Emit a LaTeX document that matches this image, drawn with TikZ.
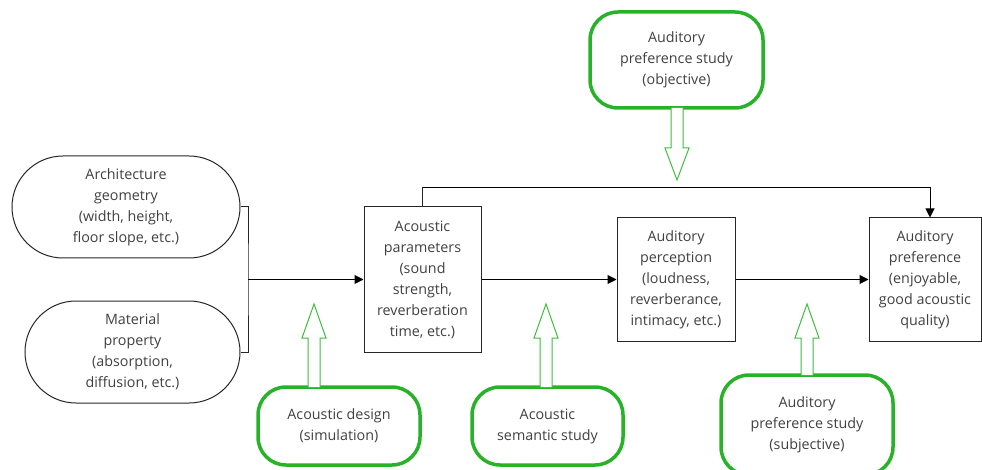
\documentclass[tikz,border=0pt]{standalone}
\usepackage{fontspec}
\setmainfont{Open Sans}
\usetikzlibrary{shapes.misc,arrows.meta}
\definecolor{txt}{RGB}{64,64,64}
\definecolor{studygreen}{RGB}{40,178,40}
\definecolor{arrowgreen}{RGB}{60,190,60}
\tikzset{
  x=1pt, y=-1pt,
  lbl/.style={text=txt, align=center, font=\fontsize{14.3}{21}\selectfont},
  stadium/.style={lbl, draw=black!85, line width=1pt, rounded rectangle, inner sep=0pt},
  param/.style={lbl, draw=black!85, line width=1pt, rectangle, inner sep=0pt},
  study/.style={lbl, draw=studygreen, line width=3.5pt, rounded corners=28pt, inner sep=0pt},
  flow/.style={draw=black, line width=1pt, -{Triangle[length=9pt,width=9pt]}},
  hollow/.style={draw=arrowgreen, line width=1pt, fill=white, line join=miter},
}
\begin{document}
\begin{tikzpicture}
\useasboundingbox (0,0) rectangle (982,470);

% inputs
\node[stadium, minimum width=228pt, minimum height=102pt] (geo) at (126,207)
  {Architecture\\geometry\\(width, height,\\floor slope, etc.)};
\node[stadium, minimum width=215pt, minimum height=102pt] (mat) at (132.5,352)
  {Material\\property\\(absorption,\\diffusion, etc.)};

% main chain
\node[param, minimum width=117pt, minimum height=145pt] (par) at (422.5,279.5)
  {Acoustic\\parameters\\(sound\\strength,\\reverberation\\time, etc.)};
\node[param, minimum width=118pt, minimum height=123pt] (per) at (676,279.5)
  {Auditory\\perception\\(loudness,\\reverberance,\\intimacy, etc.)};
\node[param, minimum width=112pt, minimum height=123pt] (pref) at (925,279.5)
  {Auditory\\preference\\(enjoyable,\\good acoustic\\quality)};

% studies
\node[study, minimum width=173pt, minimum height=96pt] (obj) at (676.5,60)
  {Auditory\\preference study\\(objective)};
\node[study, minimum width=162pt, minimum height=78pt] (sim) at (339,426)
  {Acoustic design\\(simulation)};
\node[study, minimum width=151pt, minimum height=78pt] (sem) at (547.5,426)
  {Acoustic\\semantic study};
\node[study, minimum width=172pt, minimum height=100pt] (sub) at (807,425)
  {Auditory\\preference study\\(subjective)};

% bracket joining the two inputs
\coordinate (join) at (248,279.5);
\draw[line width=1pt, black!85] (geo.east) -| (join) |- (mat.east);
\draw[flow] (join) -- (par.west);
\draw[flow] (par.east) -- (per.west);
\draw[flow] (per.east) -- (pref.west);
\draw[line width=1pt, black!85] (par.north) -- ++(0,-19) coordinate (bend);
\draw[flow] (bend) -| (pref.north -| 930,0);

% hollow arrows from the studies
\draw[hollow] (671,108) -- (671,148) -- (665,148) -- (677,180) -- (689,148) -- (683,148) -- (683,108);
\draw[hollow] (308,387) -- (308,338) -- (302,338) -- (314,304) -- (326,338) -- (320,338) -- (320,387);
\draw[hollow] (540,387) -- (540,338) -- (534,338) -- (546,304) -- (558,338) -- (552,338) -- (552,387);
\draw[hollow] (801,375) -- (801,338) -- (795,338) -- (807,304) -- (819,338) -- (813,338) -- (813,375);
\end{tikzpicture}
\end{document}
